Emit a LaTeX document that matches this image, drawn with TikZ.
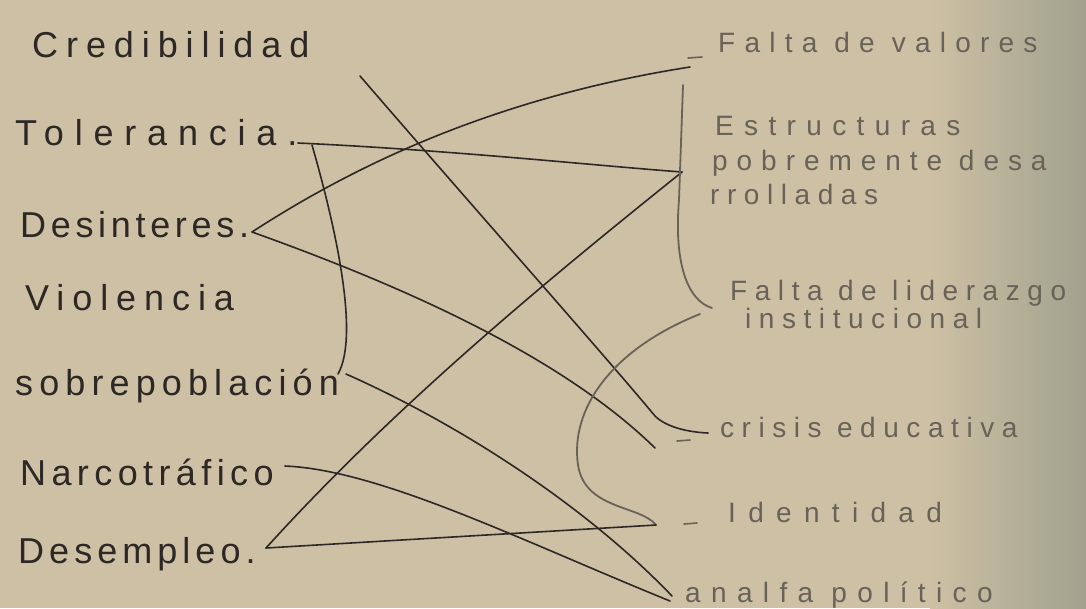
\documentclass[tikz,border=0pt]{standalone}
\usepackage{fontspec}
\setmainfont{Liberation Sans}
\newfontfamily\handL[LetterSpace=22]{Liberation Sans}
\newfontfamily\handR[LetterSpace=27]{Liberation Sans}
\newcommand\lsp[1]{\addfontfeature{LetterSpace=#1}}
\definecolor{paper}{RGB}{206,192,164}
\definecolor{paperR}{RGB}{160,162,142}
\definecolor{ink}{RGB}{45,40,38}
\definecolor{pencil}{RGB}{105,98,88}
\begin{document}
\begin{tikzpicture}[x=1pt,y=-1pt,
  lbl/.style={anchor=base west, inner sep=0pt, text=ink, font=\handL\fontsize{36}{40}\selectfont},
  rlbl/.style={anchor=base west, inner sep=0pt, text=pencil, font=\handR\fontsize{28}{32}\selectfont},
  conn/.style={draw=ink, line width=1.6pt, line cap=round, line join=round},
  pcon/.style={draw=pencil, line width=1.8pt, line cap=round, line join=round},
  tick/.style={draw=pencil, line width=1.6pt, line cap=round}]
\useasboundingbox (0,0) rectangle (1086,608);
\fill[paper] (0,0) rectangle (1086,608);
\shade[left color=paper, right color=paperR] (930,0) rectangle (1086,608);

% left labels
\node[lbl] (cred) at (32,57) {Credibilidad};
\node[lbl] (tol) at (15,145) {\lsp{30}Tolerancia.};
\node[lbl] (des) at (20,237) {\lsp{13}Desinteres.};
\node[lbl] (vio) at (25,310) {Violencia};
\node[lbl] (sob) at (15,395) {\lsp{17}sobrepoblación};
\node[lbl] (nar) at (20,485) {\lsp{15}Narcotráfico};
\node[lbl] (dem) at (18,563) {\lsp{14}Desempleo.};

% right labels
\node[rlbl] (val) at (718,52) {\lsp{33}Falta de valores};
\node[rlbl] (est1) at (715,135) {\lsp{37}Estructuras};
\node[rlbl] (est2) at (712,170) {\lsp{32}pobremente desa};
\node[rlbl] (est3) at (710,204) {rrolladas};
\node[rlbl] (lid1) at (730,300) {Falta de liderazgo};
\node[rlbl] (lid2) at (745,328) {institucional};
\node[rlbl] (cri) at (720,437) {crisis educativa};
\node[rlbl] (ide) at (728,522) {\lsp{44}Identidad};
\node[rlbl] (ana) at (685,602) {\lsp{37}analfa político};

% bullet ticks
\draw[tick] (688,58) -- (702,57);
\draw[tick] (677,441) -- (690,440);
\draw[tick] (684,524) -- (697,523);

% connector ends
\coordinate (tolA) at (298,143);
\coordinate (tolB) at (312,145);
\coordinate (desA) at (252,232);
\coordinate (estA) at (682,172);
\coordinate (valA) at (690,67);
\coordinate (criA) at (655,448);
\coordinate (criC) at (655,416);
\coordinate (criB) at (708,433);
\coordinate (topA) at (360,76);
\coordinate (sobA) at (338,374);
\coordinate (sobB) at (346,374);
\coordinate (narA) at (285,466);
\coordinate (anaA) at (672,596);
\coordinate (anaB) at (670,601);
\coordinate (demA) at (266,548);
\coordinate (idA) at (656,525);
\coordinate (lidA) at (700,314);
\coordinate (brT) at (683,85);
\coordinate (brB) at (712,308);

% connectors
\draw[conn] (tolA) .. controls (450,150) and (600,166) .. (estA);
\draw[conn] (tolB) .. controls (335,225) and (360,335) .. (sobA);
\draw[conn] (desA) .. controls (340,175) and (480,100) .. (valA);
\draw[conn] (desA) .. controls (400,285) and (560,355) .. (criA);
\draw[conn] (topA) .. controls (480,215) and (600,350) .. (criC) .. controls (665,426) and (685,432) .. (criB);
\draw[conn] (estA) .. controls (560,270) and (400,400) .. (demA);
\draw[conn] (sobB) .. controls (450,420) and (580,500) .. (anaA);
\draw[conn] (narA) .. controls (380,470) and (520,540) .. (anaB);
\draw[pcon] (brT) -- (679,200) .. controls (674,260) and (686,300) .. (brB);
\draw[pcon] (lidA) .. controls (610,350) and (570,410) .. (578,465) .. controls (585,510) and (640,505) .. (idA);
\draw[conn] (idA) -- (demA);
\end{tikzpicture}
\end{document}
